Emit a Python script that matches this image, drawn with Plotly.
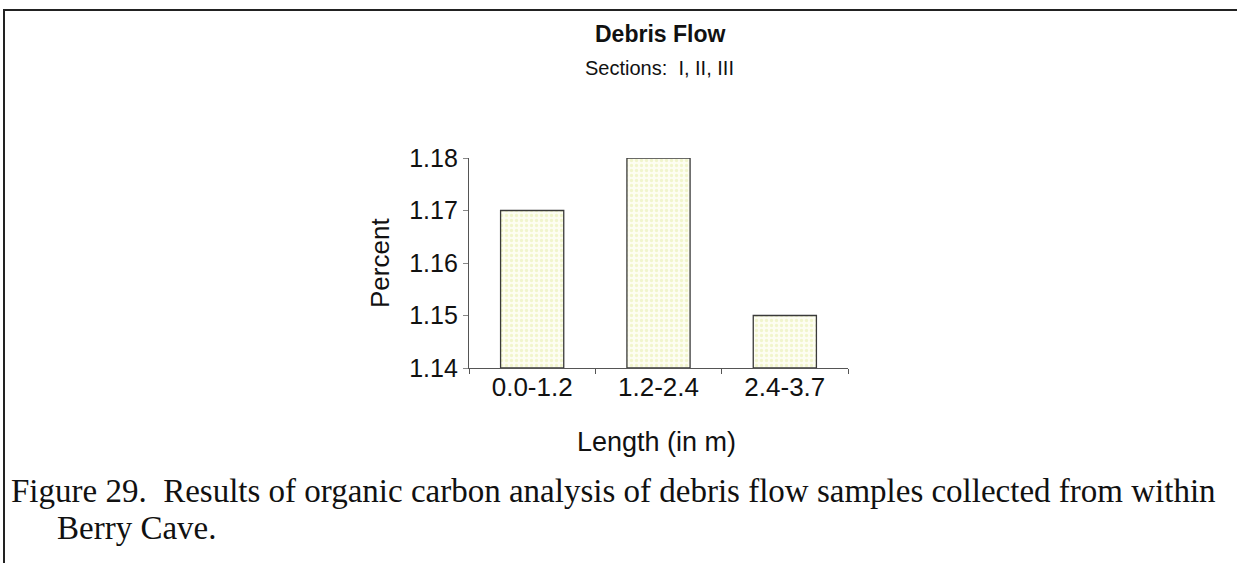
import plotly.graph_objects as go

# Organic carbon results for the debris flow, by sample length interval
length_bins = ["0.0-1.2", "1.2-2.4", "2.4-3.7"]
percent_carbon = [1.17, 1.18, 1.15]
y_ticks = [1.14, 1.15, 1.16, 1.17, 1.18]

W, H = 1237, 563
L, R, T, B = 469, 848, 158, 368  # plot area in pixels


def px_x(px):
    return (px - L) / (R - L)


def px_y(py):
    return (B - py) / (B - T)


fig = go.Figure()
fig.add_trace(go.Bar(
    x=length_bins,
    y=[v - y_ticks[0] for v in percent_carbon],
    base=y_ticks[0],
    width=0.5,
    marker=dict(
        color="#fdfdf2",
        line=dict(color="#3a3a3a", width=1.3),
        pattern=dict(shape=".", fgcolor="#e6eea8", bgcolor="#fdfdf2", size=5, solidity=0.35),
    ),
    hoverinfo="skip",
))

font_sans = "Arial, Liberation Sans, sans-serif"
font_serif = "Times New Roman, Liberation Serif, serif"

fig.update_layout(
    width=W, height=H,
    margin=dict(l=L, r=W - R, t=T, b=H - B, pad=0),
    paper_bgcolor="white",
    plot_bgcolor="white",
    showlegend=False,
    bargap=0.5,
    font=dict(family=font_sans, color="#111"),
)

fig.update_xaxes(
    type="category",
    showline=True, linecolor="#555", linewidth=1.3,
    ticks="outside", ticklen=5, tickcolor="#555", tickson="boundaries",
    ticklabelstandoff=-4,
    tickfont=dict(size=26, family=font_sans, color="#111"),
    showgrid=False, zeroline=False,
)
fig.update_yaxes(
    range=[y_ticks[0], y_ticks[-1]],
    tickvals=y_ticks,
    ticktext=[f"{v:.2f}" for v in y_ticks],
    showline=True, linecolor="#555", linewidth=1.3,
    ticks="outside", ticklen=5, tickcolor="#888",
    tickfont=dict(size=25, family=font_sans, color="#111"),
    showgrid=False, zeroline=False,
)

texts = [
    dict(text="<b>Debris Flow</b>", x=px_x(660), y=px_y(34), size=23, fam=font_sans, xa="center"),
    dict(text="Sections:  I, II, III", x=px_x(659), y=px_y(68), size=20, fam=font_sans, xa="center"),
    dict(text="Length (in m)", x=px_x(656), y=px_y(442), size=27, fam=font_sans, xa="center"),
    dict(text="Figure 29.  Results of organic carbon analysis of debris flow samples collected from within",
         x=px_x(9), y=px_y(491), size=33, fam=font_serif, xa="left"),
    dict(text="Berry Cave.", x=px_x(55), y=px_y(528), size=33, fam=font_serif, xa="left"),
]
for t in texts:
    fig.add_annotation(
        text=t["text"], x=t["x"], y=t["y"], xref="paper", yref="paper",
        xanchor=t["xa"], yanchor="middle", showarrow=False,
        font=dict(size=t["size"], family=t["fam"], color="#111"),
    )

fig.add_annotation(
    text="Percent", x=px_x(380), y=px_y(263), xref="paper", yref="paper",
    textangle=-90, showarrow=False, xanchor="center", yanchor="middle",
    font=dict(size=26, family=font_sans, color="#111"),
)

# Page frame: top rule and left rule
fig.add_shape(type="line", xref="paper", yref="paper",
              x0=px_x(3), x1=px_x(W), y0=px_y(10), y1=px_y(10),
              line=dict(color="#222", width=2))
fig.add_shape(type="line", xref="paper", yref="paper",
              x0=px_x(4), x1=px_x(4), y0=px_y(10), y1=px_y(H),
              line=dict(color="#222", width=2))

fig.write_html("out.html")
